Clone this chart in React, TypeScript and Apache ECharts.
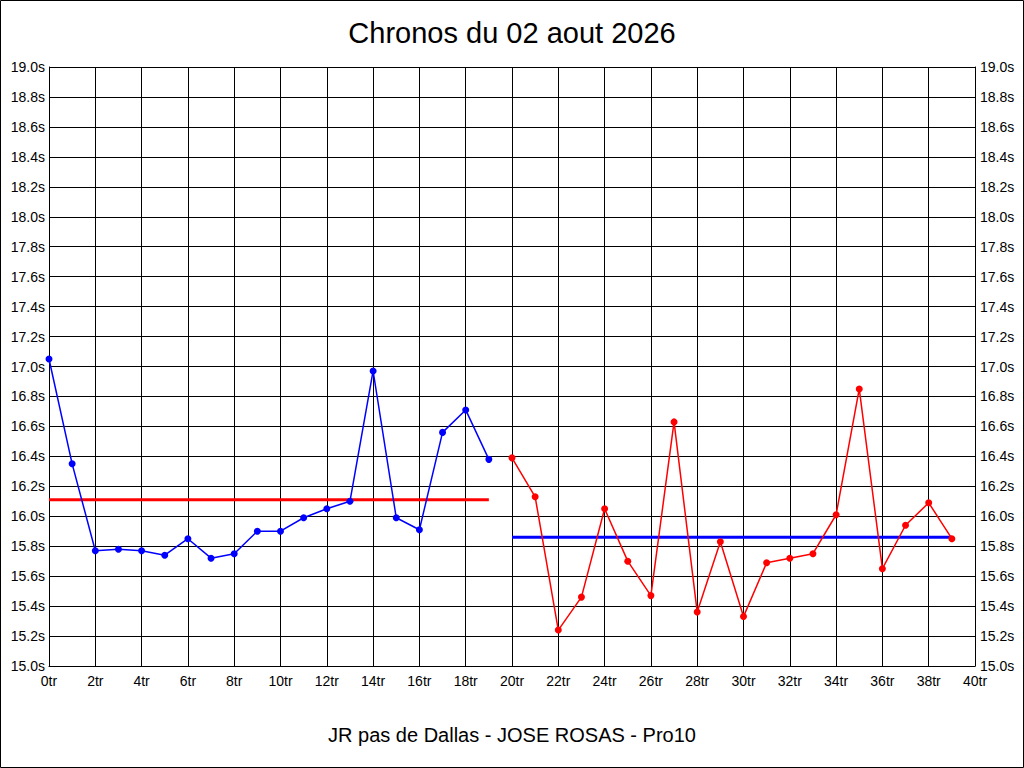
import React, { useEffect, useRef } from "react";
import * as echarts from "echarts";

const TITLE = "Chronos du 02 aout 2026";
const SUBTITLE = "JR pas de Dallas - JOSE ROSAS - Pro10";

const blueLaps = [0, 1, 2, 3, 4, 5, 6, 7, 8, 9, 10, 11, 12, 13, 14, 15, 16, 17, 18, 19];
const blueTimes = [
  17.05, 16.35, 15.77, 15.78, 15.77, 15.74, 15.85, 15.72, 15.75, 15.9,
  15.9, 15.99, 16.05, 16.1, 16.97, 15.99, 15.91, 16.56, 16.71, 16.38,
];
const redLaps = [20, 21, 22, 23, 24, 25, 26, 27, 28, 29, 30, 31, 32, 33, 34, 35, 36, 37, 38, 39];
const redTimes = [
  16.39, 16.13, 15.24, 15.46, 16.05, 15.7, 15.47, 16.63, 15.36, 15.83,
  15.33, 15.69, 15.72, 15.75, 16.01, 16.85, 15.65, 15.94, 16.09, 15.85,
];
// horizontal reference lines: [startLap, endLap, value]
const redRef = [0, 19, 16.11];
const blueRef = [20, 39, 15.86];

const X_MIN = 0;
const X_MAX = 40;
const X_STEP = 2;
const Y_MIN = 15.0;
const Y_MAX = 19.0;
const Y_STEP = 0.2;

const FONT = "'Liberation Sans', Arial, sans-serif";

export default function App() {
  const ref = useRef<HTMLDivElement>(null);
  useEffect(() => {
    if (!ref.current) return;
    const chart = echarts.init(ref.current, undefined, { renderer: "svg" });
    const yLabel = (v: number) => v.toFixed(1) + "s";
    const yAxisBase = {
      type: "value",
      min: Y_MIN,
      max: Y_MAX,
      interval: Y_STEP,
      axisLine: { show: true, lineStyle: { color: "#000", width: 1 } },
      axisTick: { show: false },
      splitLine: { show: true, lineStyle: { color: "#000", width: 1 } },
    };
    chart.setOption({
      animation: false,
      backgroundColor: "#fff",
      textStyle: { fontFamily: FONT },
      title: [
        {
          text: TITLE,
          left: "center",
          top: 13,
          textStyle: { fontFamily: FONT, fontSize: 29, fontWeight: "normal", color: "#000" },
        },
        {
          text: SUBTITLE,
          left: "center",
          top: 720,
          textStyle: { fontFamily: FONT, fontSize: 20, fontWeight: "normal", color: "#000" },
        },
      ],
      graphic: [
        {
          type: "rect",
          shape: { x: 0.5, y: 0.5, width: 1023, height: 767 },
          style: { fill: "none", stroke: "#000", lineWidth: 1 },
          silent: true,
        },
      ],
      grid: { left: 49, right: 49, top: 67, height: 599, containLabel: false },
      xAxis: {
        type: "value",
        min: X_MIN,
        max: X_MAX,
        interval: X_STEP,
        axisLine: { show: true, lineStyle: { color: "#000", width: 1 } },
        axisTick: { show: false },
        splitLine: { show: true, lineStyle: { color: "#000", width: 1 } },
        axisLabel: {
          formatter: (v: number) => v + "tr",
          color: "#000",
          fontSize: 14,
          fontFamily: FONT,
          margin: 8,
        },
      },
      yAxis: [
        {
          ...yAxisBase,
          position: "left",
          axisLabel: { formatter: yLabel, color: "#000", fontSize: 14, fontFamily: FONT, margin: 4 },
        },
        {
          ...yAxisBase,
          position: "right",
          splitLine: { show: false },
          axisLabel: { formatter: yLabel, color: "#000", fontSize: 14, fontFamily: FONT, margin: 5 },
        },
      ],
      series: [
        {
          type: "line",
          data: [
            [redRef[0], redRef[2]],
            [redRef[1], redRef[2]],
          ],
          symbol: "none",
          lineStyle: { color: "#ff0000", width: 3 },
          z: 3,
        },
        {
          type: "line",
          data: [
            [blueRef[0], blueRef[2]],
            [blueRef[1], blueRef[2]],
          ],
          symbol: "none",
          lineStyle: { color: "#0000ff", width: 3 },
          z: 3,
        },
        {
          type: "line",
          data: blueLaps.map((l, i) => [l, blueTimes[i]]),
          symbol: "circle",
          symbolSize: 7,
          itemStyle: { color: "#0000ff" },
          lineStyle: { color: "#0000ff", width: 1.5 },
          z: 4,
        },
        {
          type: "line",
          data: redLaps.map((l, i) => [l, redTimes[i]]),
          symbol: "circle",
          symbolSize: 7,
          itemStyle: { color: "#ff0000" },
          lineStyle: { color: "#ff0000", width: 1.5 },
          z: 4,
        },
      ],
    });
    return () => chart.dispose();
  }, []);
  return (
    <div
      ref={ref}
      style={{ position: "absolute", left: 0, top: 0, width: 1024, height: 768 }}
    />
  );
}
